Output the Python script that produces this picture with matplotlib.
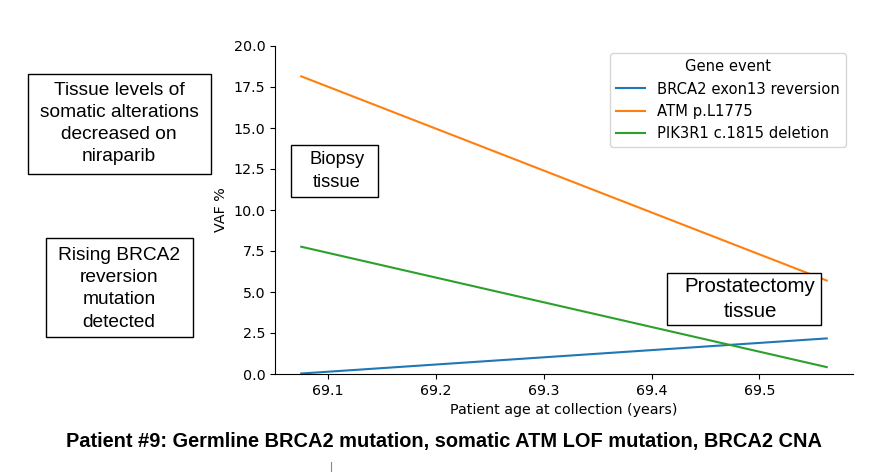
import matplotlib
matplotlib.use("Agg")
import matplotlib.pyplot as plt
from matplotlib.patches import Rectangle
from matplotlib.lines import Line2D

# Data
ages = [69.075, 69.5625]
series_names = ["BRCA2 exon13 reversion", "ATM p.L1775", "PIK3R1 c.1815 deletion"]
brca2_vaf = [0.03, 2.17]
atm_vaf = [18.15, 5.70]
pik3r1_vaf = [7.76, 0.42]
legend_title = "Gene event"
x_label = "Patient age at collection (years)"
y_label = "VAF %"
title = "Patient #9: Germline BRCA2 mutation, somatic ATM LOF mutation, BRCA2 CNA"

W, H = 872, 472
fig = plt.figure(figsize=(W / 100, H / 100), dpi=100)
ax = fig.add_axes([275 / W, 1 - 374 / H, (853 - 275) / W, (374 - 46) / H])

colors = ["#1f77b4", "#ff7f0e", "#2ca02c"]
for name, vals, c in zip(series_names, [brca2_vaf, atm_vaf, pik3r1_vaf], colors):
    ax.plot(ages, vals, color=c, lw=1.5, label=name)

ax.set_ylim(0, 20)
ax.set_yticks([0, 2.5, 5, 7.5, 10, 12.5, 15, 17.5, 20])
ax.set_yticklabels(["0.0", "2.5", "5.0", "7.5", "10.0", "12.5", "15.0", "17.5", "20.0"])
ax.set_xticks([69.1, 69.2, 69.3, 69.4, 69.5])
ax.set_xticklabels(["69.1", "69.2", "69.3", "69.4", "69.5"])
ax.tick_params(labelsize=10.3)
ax.set_xlabel(x_label, fontsize=10.3)
ax.set_ylabel(y_label, fontsize=10.3)
for s in ["top", "right"]:
    ax.spines[s].set_visible(False)

leg = ax.legend(title=legend_title, loc="upper right", fontsize=10.6, title_fontsize=10.6)

def fig_box(x0, y0, x1, y1, text, size, ls, cx=None, cy=None):
    fig.patches.append(Rectangle((x0 / W, 1 - y1 / H), (x1 - x0) / W, (y1 - y0) / H,
                                 transform=fig.transFigure, facecolor="white",
                                 edgecolor="black", lw=1.0, zorder=5))
    cx = (x0 + x1) / 2 if cx is None else cx
    cy = (y0 + y1) / 2 if cy is None else cy
    fig.text(cx / W, 1 - cy / H, text, ha="center", va="center",
             fontsize=size, family="Liberation Sans", linespacing=ls, zorder=6)

fig_box(28, 74, 211, 174, "Tissue levels of\nsomatic alterations\ndecreased on\nniraparib",
        13.8, 1.40, cx=119, cy=123.5)
fig_box(46, 238, 193, 337, "Rising BRCA2\nreversion\nmutation\ndetected",
        13.8, 1.40, cx=119, cy=288.8)
fig_box(291, 145, 378, 197, "Biopsy\ntissue", 13.2, 1.45, cx=337, cy=171)
fig_box(667, 273, 821, 325, "Prostatectomy\ntissue", 14.8, 1.36, cx=750, cy=299)

fig.text(444 / W, 1 - 441 / H, title, ha="center", va="center", fontsize=14.4,
         fontweight="bold", family="Liberation Sans")

fig.add_artist(Line2D([331 / W, 331 / W], [0, 1 - 462 / H], transform=fig.transFigure,
                      color="#888888", lw=0.8))

fig.savefig("out.png", dpi=100)
